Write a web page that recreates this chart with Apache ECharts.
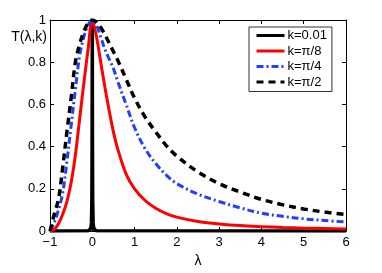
<!DOCTYPE html>
<html><head><meta charset="utf-8">
<script src="https://cdn.jsdelivr.net/npm/echarts@6/dist/echarts.min.js"></script>
<style>html,body{margin:0;padding:0;background:#fff}#c{width:382px;height:273px}</style>
</head><body><div id="c"></div>
<script>
// λ grid shared by the three wide curves
const lambda = [-1, -0.9, -0.8, -0.7, -0.6, -0.5, -0.4, -0.3, -0.2, -0.1, 0, 0.1, 0.2, 0.3, 0.4, 0.5, 0.6, 0.8, 1.0, 1.25, 1.5, 1.75, 2, 2.5, 3, 3.5, 4, 4.5, 5, 5.5, 6];
// k = π/8 (red solid)
const tPi8 = [0, 0.008, 0.035, 0.08, 0.14, 0.23, 0.36, 0.53, 0.70, 0.86, 1.0, 0.92, 0.80, 0.68, 0.57, 0.47, 0.39, 0.27, 0.20, 0.145, 0.108, 0.083, 0.066, 0.045, 0.034, 0.026, 0.021, 0.017, 0.014, 0.012, 0.010];
// k = π/4 (blue dash-dot)
const tPi4 = [0, 0.04, 0.10, 0.18, 0.33, 0.50, 0.67, 0.83, 0.92, 0.975, 1.0, 0.975, 0.92, 0.86, 0.815, 0.77, 0.71, 0.60, 0.49, 0.39, 0.32, 0.265, 0.225, 0.175, 0.14, 0.11, 0.085, 0.07, 0.058, 0.05, 0.043];
// k = π/2 (black dashed)
const tPi2 = [0, 0.08, 0.15, 0.30, 0.47, 0.63, 0.80, 0.885, 0.945, 0.985, 1.0, 0.99, 0.965, 0.93, 0.89, 0.85, 0.81, 0.72, 0.63, 0.54, 0.47, 0.405, 0.355, 0.28, 0.225, 0.185, 0.15, 0.125, 0.105, 0.09, 0.078];
// k = 0.01 (black solid spike)
const lambdaK001 = [-1, -0.1, -0.05, -0.03, -0.02, -0.01, -0.005, 0, 0.005, 0.01, 0.02, 0.03, 0.05, 0.1, 6];
const tK001 = [0, 0.002, 0.008, 0.02, 0.04, 0.15, 0.4, 1, 0.4, 0.15, 0.04, 0.02, 0.008, 0.002, 0];

const xTicks = [-1, 0, 1, 2, 3, 4, 5, 6];
const yTicks = [0, 0.2, 0.4, 0.6, 0.8, 1];
const seriesNames = ['k=0.01', 'k=π/8', 'k=π/4', 'k=π/2'];

const FONT = 'Liberation Sans, Arial, Helvetica, sans-serif';
const pairs = (xs, ys) => xs.map((x, i) => [x, ys[i]]);

const xBase = {
  type: 'value', min: xTicks[0], max: xTicks[xTicks.length - 1], interval: 1,
  axisLine: { onZero: false, lineStyle: { color: '#000', width: 1 } },
  axisTick: { inside: true, length: 4, lineStyle: { color: '#000' } },
  splitLine: { show: false }
};
const yBase = {
  type: 'value', min: yTicks[0], max: yTicks[yTicks.length - 1], interval: 0.2,
  axisLine: { onZero: false, lineStyle: { color: '#000', width: 1 } },
  axisTick: { inside: true, length: 4, lineStyle: { color: '#000' } },
  splitLine: { show: false }
};

const chart = echarts.init(document.getElementById('c'), null, { renderer: 'canvas' });
chart.setOption({
  animation: false,
  backgroundColor: '#fff',
  textStyle: { fontFamily: FONT },
  grid: { left: 50, right: 36, top: 20, bottom: 32 },
  legend: {
    orient: 'vertical', left: 249, top: 27,
    padding: [2, 5, 3, 6], itemGap: 2.5, itemWidth: 28, itemHeight: 13,
    backgroundColor: '#fff', borderColor: '#333', borderWidth: 1, borderRadius: 0,
    itemStyle: { opacity: 0 },
    lineStyle: { width: 3 },
    textStyle: { fontFamily: FONT, fontSize: 13, color: '#000', padding: [0, 0, 0, -2] },
    data: seriesNames
  },
  xAxis: [
    Object.assign({}, xBase, {
      position: 'bottom',
      name: 'λ', nameLocation: 'middle', nameGap: 19,
      nameTextStyle: { fontFamily: FONT, fontSize: 14, color: '#000' },
      axisLabel: { margin: 5, fontSize: 13, color: '#000', fontFamily: FONT,
        formatter: v => String(v).replace('-', '\u2212') }
    }),
    Object.assign({}, xBase, { position: 'top', axisLabel: { show: false } })
  ],
  yAxis: [
    Object.assign({}, yBase, {
      position: 'left',
      name: 'T(λ,k)', nameLocation: 'end', nameGap: -17,
      nameTextStyle: { fontFamily: FONT, fontSize: 14, color: '#000', align: 'right', verticalAlign: 'middle', padding: [0, 3, 0, 0] },
      axisLabel: { margin: 4, fontSize: 13, color: '#000', fontFamily: FONT }
    }),
    Object.assign({}, yBase, { position: 'right', axisLabel: { show: false } })
  ],
  series: [
    { name: seriesNames[0], type: 'line', xAxisIndex: 0, yAxisIndex: 0, symbol: 'none', showSymbol: false,
      data: pairs(lambdaK001, tK001), lineStyle: { color: '#000', width: 3.5 }, itemStyle: { color: '#000' } },
    { name: seriesNames[1], type: 'line', xAxisIndex: 0, yAxisIndex: 0, symbol: 'none', showSymbol: false, smooth: 0.35,
      data: pairs(lambda, tPi8), lineStyle: { color: '#ff0000', width: 3 }, itemStyle: { color: '#ff0000' } },
    { name: seriesNames[2], type: 'line', xAxisIndex: 0, yAxisIndex: 0, symbol: 'none', showSymbol: false, smooth: 0.35,
      data: pairs(lambda, tPi4), lineStyle: { color: '#2040ff', width: 3, type: [7, 3, 2, 3] }, itemStyle: { color: '#2040ff' } },
    { name: seriesNames[3], type: 'line', xAxisIndex: 0, yAxisIndex: 0, symbol: 'none', showSymbol: false, smooth: 0.35,
      data: pairs(lambda, tPi2), lineStyle: { color: '#000', width: 3.5, type: [7, 5] }, itemStyle: { color: '#000' } }
  ]
});
</script>
</body></html>
